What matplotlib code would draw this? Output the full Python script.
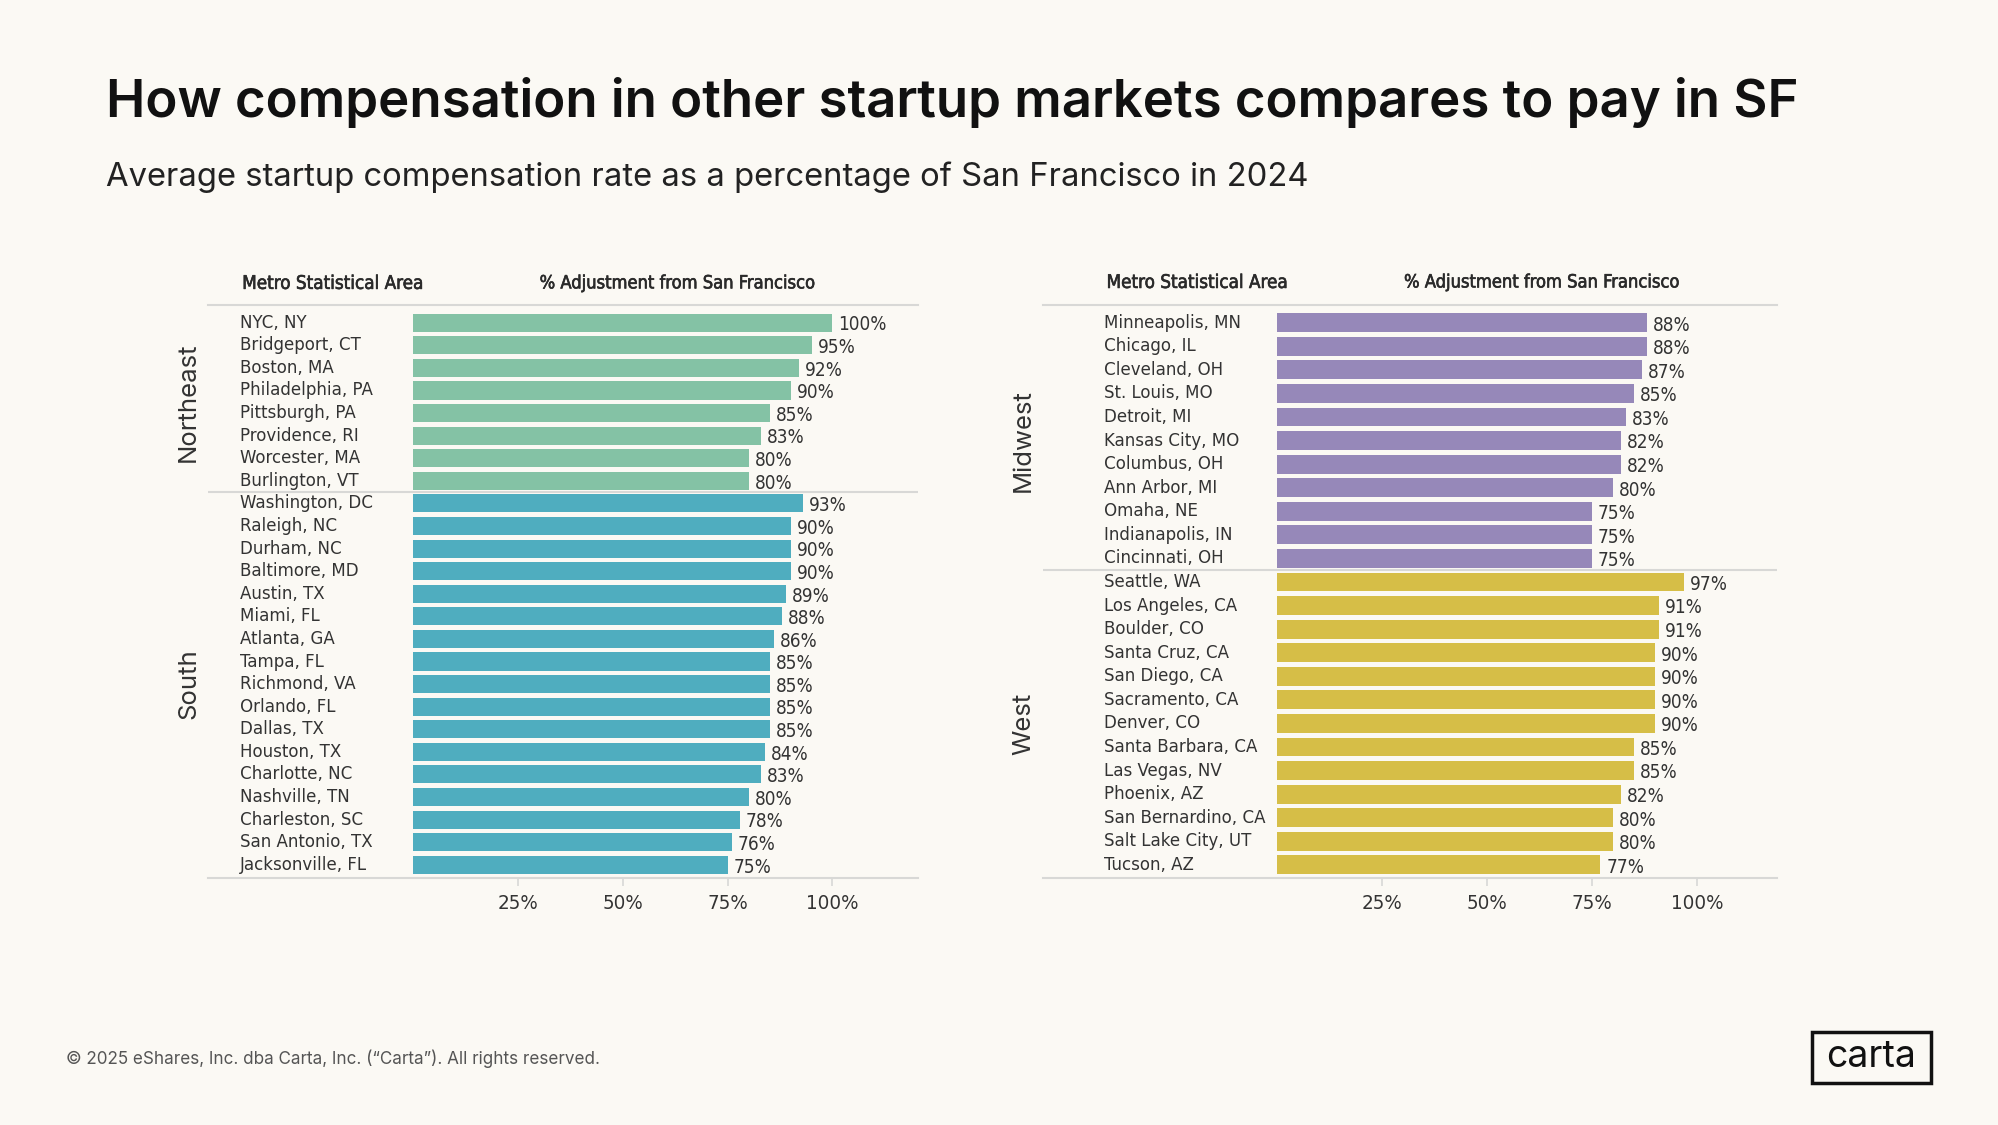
import matplotlib
matplotlib.use("Agg")
import matplotlib.pyplot as plt
import matplotlib.patheffects as pe
from matplotlib import font_manager
from matplotlib.font_manager import FontProperties
from matplotlib.patches import Rectangle

# data
northeast_cities = ["NYC, NY", "Bridgeport, CT", "Boston, MA", "Philadelphia, PA",
                    "Pittsburgh, PA", "Providence, RI", "Worcester, MA", "Burlington, VT"]
northeast_vals = [100, 95, 92, 90, 85, 83, 80, 80]

south_cities = ["Washington, DC", "Raleigh, NC", "Durham, NC", "Baltimore, MD", "Austin, TX",
                "Miami, FL", "Atlanta, GA", "Tampa, FL", "Richmond, VA", "Orlando, FL",
                "Dallas, TX", "Houston, TX", "Charlotte, NC", "Nashville, TN",
                "Charleston, SC", "San Antonio, TX", "Jacksonville, FL"]
south_vals = [93, 90, 90, 90, 89, 88, 86, 85, 85, 85, 85, 84, 83, 80, 78, 76, 75]

midwest_cities = ["Minneapolis, MN", "Chicago, IL", "Cleveland, OH", "St. Louis, MO",
                  "Detroit, MI", "Kansas City, MO", "Columbus, OH", "Ann Arbor, MI",
                  "Omaha, NE", "Indianapolis, IN", "Cincinnati, OH"]
midwest_vals = [88, 88, 87, 85, 83, 82, 82, 80, 75, 75, 75]

west_cities = ["Seattle, WA", "Los Angeles, CA", "Boulder, CO", "Santa Cruz, CA",
               "San Diego, CA", "Sacramento, CA", "Denver, CO", "Santa Barbara, CA",
               "Las Vegas, NV", "Phoenix, AZ", "San Bernardino, CA", "Salt Lake City, UT",
               "Tucson, AZ"]
west_vals = [97, 91, 91, 90, 90, 90, 90, 85, 85, 82, 80, 80, 77]

tick_vals = [25, 50, 75, 100]
tick_labels = ["25%", "50%", "75%", "100%"]

BG = "#FBF9F4"
GRID = "#D8D8D6"
TXT = "#333333"
COLORS = {"Northeast": "#84C2A5", "South": "#4FADBF",
          "Midwest": "#9688B9", "West": "#D6BE47"}

names = {f.name for f in font_manager.fontManager.ttflist}
HEAD = "Inter" if "Inter" in names else "DejaVu Sans"


# look for a condensed / narrow face for the table text (Tableau look)
def find_narrow(bold):
    best = None
    for f in font_manager.fontManager.ttflist:
        key = (f.name + " " + f.fname).lower()
        if "narrow" in key or "condensed" in key:
            if "italic" in key or "oblique" in key:
                continue
            is_bold = "bold" in key and "semibold" not in key
            if is_bold == bold:
                if best is None or "liberation" in key:
                    best = f.fname
    return best


reg_path = find_narrow(False)
bold_path = find_narrow(True)


def narrow(size, bold=False):
    path = bold_path if bold else reg_path
    if path:
        return FontProperties(fname=path, size=size)
    return FontProperties(family="DejaVu Sans", size=size * 0.92,
                          weight="bold" if bold else "normal")


fig = plt.figure(figsize=(19.99, 11.25), dpi=100, facecolor=BG)

# reference layout measured on a 1568x882 view
W, H = 1568.0, 882.0


def fx(x):
    return x / W


def fy(y):
    return 1 - y / H


fig.text(fx(83), fy(80), "How compensation in other startup markets compares to pay in SF",
         fontsize=38, fontweight="semibold", family=HEAD, color="#111111", va="center")
fig.text(fx(83), fy(139), "Average startup compensation rate as a percentage of San Francisco in 2024",
         fontsize=23.6, family=HEAD, color="#222222", va="center")
fig.text(fx(52), fy(830), "\u00a9 2025 eShares, Inc. dba Carta, Inc. (\u201cCarta\u201d). All rights reserved.",
         fontsize=12.3, family=HEAD, color="#555555", va="center")

# carta logo box
fig.patches.append(Rectangle((fx(1421), fy(849)), fx(1515) - fx(1421), fy(809) - fy(849),
                             transform=fig.transFigure, fill=False, edgecolor="#111111",
                             linewidth=2.5))
fig.text(fx(1468), fy(829), "carta", fontsize=27, family=HEAD, color="#111111",
         ha="center", va="center")

medium = [pe.withStroke(linewidth=0.45, foreground="#2A2A2A")]


def panel(left, right, zero, hundred, label_left, header_mid, groups):
    scale = (hundred - zero) / 100.0
    top, bottom = 239, 688
    ax = fig.add_axes([fx(left), fy(bottom), fx(right) - fx(left), fy(top) - fy(bottom)])
    ax.set_facecolor(BG)

    cities, vals, cols, bounds = [], [], [], []
    for region, c, v in groups:
        start = len(cities)
        cities += c
        vals += v
        cols += [COLORS[region]] * len(c)
        bounds.append((region, start, len(cities) - 1))

    n = len(cities)
    first_c, last_c = 253, 678
    step = (last_c - first_c) / (n - 1)
    ymin = (top - first_c) / step
    ymax = (n - 1) + (bottom - last_c) / step
    ax.set_ylim(ymax, ymin)
    ax.set_xlim((left - zero) / scale, (right - zero) / scale)

    ys = list(range(n))
    ax.barh(ys, vals, height=0.8, color=cols, edgecolor="none")

    label_x = (label_left - zero) / scale
    region_x = (left - 15 - zero) / scale
    for y, city, v in zip(ys, cities, vals):
        ax.text(label_x, y, city, fontproperties=narrow(13.3), color=TXT,
                ha="left", va="center")
        ax.text(v + 1.4, y + 0.1, f"{v}%", fontproperties=narrow(13.6), color=TXT,
                ha="left", va="center")

    for i, (region, s, e) in enumerate(bounds):
        ax.text(region_x, (s + e) / 2, region, rotation=90, fontsize=18.5, family=HEAD,
                color=TXT, ha="center", va="center", clip_on=False)
        if i > 0:
            ax.axhline(s - 0.5, color=GRID, linewidth=1.5)

    # column headers
    ax.text(label_x + 0.6, ymin - 0.95, "Metro Statistical Area", fontproperties=narrow(13.5),
            color="#2A2A2A", ha="left", va="center", clip_on=False, path_effects=medium)
    ax.text((header_mid - zero) / scale, ymin - 0.95, "% Adjustment from San Francisco",
            fontproperties=narrow(13.1), color="#2A2A2A", ha="center", va="center",
            clip_on=False, path_effects=medium)

    for side in ["left", "right"]:
        ax.spines[side].set_visible(False)
    for side in ["top", "bottom"]:
        ax.spines[side].set_color(GRID)
        ax.spines[side].set_linewidth(1.5)
    ax.set_yticks([])
    ax.set_xticks(tick_vals)
    ax.set_xticklabels(tick_labels, color=TXT)
    for lab in ax.get_xticklabels():
        lab.set_fontproperties(narrow(14.7))
    ax.tick_params(axis="x", length=6, width=1.2, color=GRID, pad=6)
    return ax


panel(163, 720, 324, 653, 188, 531, [("Northeast", northeast_cities, northeast_vals),
                                     ("South", south_cities, south_vals)])
panel(818, 1394, 1002, 1331, 866, 1209, [("Midwest", midwest_cities, midwest_vals),
                                         ("West", west_cities, west_vals)])

fig.savefig("out.png", dpi=100, facecolor=BG)
